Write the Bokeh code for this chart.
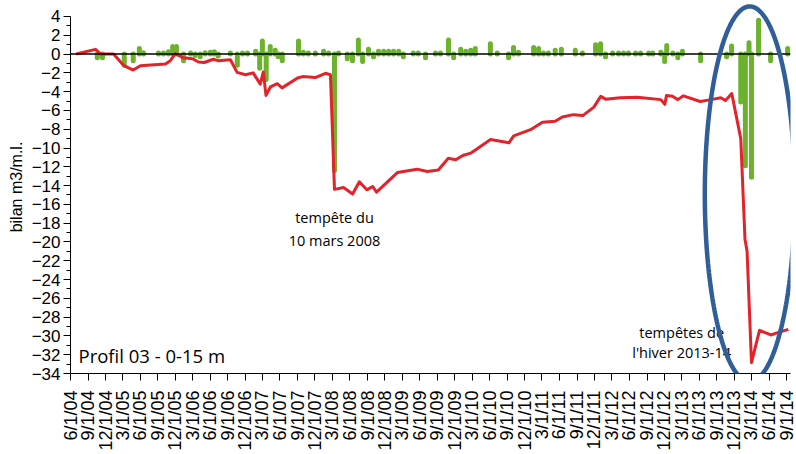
import numpy as np
import pandas as pd
from bokeh.plotting import figure
from bokeh.models import (Range1d, FixedTicker, CustomJSTickFormatter, Span, Label,
                          PolyAnnotation, ColumnDataSource)
from bokeh.embed import file_html
from bokeh.resources import INLINE

# ---------------- data ----------------
cumul_dates = [
    "2004-07-01", "2004-10-10", "2004-11-05", "2005-01-12", "2005-03-05", "2005-04-25",
    "2005-06-01", "2005-10-10", "2005-11-05", "2005-12-01", "2006-01-12", "2006-03-01",
    "2006-04-01", "2006-05-01", "2006-06-18", "2006-07-12", "2006-09-15", "2006-10-20",
    "2006-12-03", "2007-01-12", "2007-02-18", "2007-03-06", "2007-03-20", "2007-04-12",
    "2007-05-18", "2007-06-12", "2007-09-01", "2007-09-28", "2007-12-03", "2008-01-25",
    "2008-02-20", "2008-03-12", "2008-04-28", "2008-06-15", "2008-07-20", "2008-08-28",
    "2008-09-28", "2008-10-18", "2009-02-05", "2009-05-18", "2009-07-10", "2009-09-06",
    "2009-10-28", "2009-12-06", "2010-01-12", "2010-02-22", "2010-06-06", "2010-09-10",
    "2010-10-05", "2011-01-01", "2011-03-04", "2011-05-10", "2011-06-16", "2011-08-13",
    "2011-10-01", "2011-11-28", "2012-01-03", "2012-01-28", "2012-04-15", "2012-07-12",
    "2012-11-12", "2012-12-03", "2012-12-12", "2013-01-12", "2013-02-09", "2013-03-10",
    "2013-06-06", "2013-08-01", "2013-09-22", "2013-10-16", "2013-11-18", "2014-01-04",
    "2014-01-26", "2014-02-06", "2014-03-01", "2014-04-12", "2014-06-10", "2014-07-16",
    "2014-09-10",
]
cumul_values = [
    0.0, 0.5, 0.0, 0.0, -1.2, -1.7,
    -1.25, -1.05, -0.7, 0.05, -0.4, -0.5,
    -0.85, -0.9, -0.55, -0.7, -0.6, -1.95,
    -2.2, -2.0, -3.2, -1.9, -4.4, -3.5,
    -3.15, -3.6, -2.55, -2.4, -2.5, -2.05,
    -2.2, -14.4, -14.2, -14.9, -13.6, -14.45,
    -14.1, -14.7, -12.6, -12.25, -12.5, -12.35,
    -11.1, -11.25, -10.8, -10.55, -9.1, -9.45,
    -8.7, -8.05, -7.25, -7.15, -6.7, -6.45,
    -6.55, -5.65, -4.5, -4.8, -4.65, -4.6,
    -4.85, -5.35, -4.4, -4.5, -4.85, -4.45,
    -5.05, -4.85, -4.65, -4.95, -4.2, -9.0,
    -19.7, -21.0, -32.85, -29.4, -29.9, -29.65,
    -29.3,
]

change_dates = [
    "2004-10-19", "2004-11-15", "2005-03-09", "2005-04-25", "2005-05-27", "2005-06-17",
    "2005-09-04", "2005-09-30", "2005-10-26", "2005-11-17", "2005-12-07", "2006-01-13",
    "2006-02-19", "2006-03-15", "2006-04-10", "2006-05-06", "2006-06-02", "2006-06-23",
    "2006-07-13", "2006-09-15", "2006-10-21", "2006-11-17", "2006-12-13", "2007-01-25",
    "2007-02-15", "2007-03-01", "2007-03-21", "2007-04-11", "2007-05-07", "2007-05-23",
    "2007-06-13", "2007-09-06", "2007-10-01", "2007-10-27", "2007-12-03", "2008-01-15",
    "2008-02-10", "2008-03-12", "2008-04-02", "2008-05-18", "2008-06-14", "2008-07-15",
    "2008-08-06", "2008-09-06", "2008-10-02", "2008-10-28", "2008-11-24", "2008-12-20",
    "2009-01-15", "2009-02-11", "2009-03-07", "2009-04-28", "2009-05-24", "2009-07-01",
    "2009-08-22", "2009-09-17", "2009-10-29", "2009-11-25", "2010-01-01", "2010-01-27",
    "2010-02-22", "2010-03-18", "2010-06-05", "2010-07-11", "2010-09-08", "2010-10-04",
    "2010-10-30", "2011-01-17", "2011-02-12", "2011-03-09", "2011-04-04", "2011-05-10",
    "2011-06-11", "2011-08-23", "2011-09-29", "2011-12-07", "2012-01-02", "2012-01-28",
    "2012-03-05", "2012-04-05", "2012-05-01", "2012-05-27", "2012-07-03", "2012-07-29",
    "2012-09-10", "2012-10-01", "2012-11-12", "2012-12-02", "2012-12-13", "2013-01-14",
    "2013-02-09", "2013-03-05", "2013-06-08", "2013-10-22", "2013-11-17", "2014-01-04",
    "2014-01-28", "2014-02-16", "2014-03-01", "2014-04-07", "2014-06-09", "2014-09-06",
]
change_values = [
    -0.4, -0.4, -1.2, -0.7, 0.6, 0.15,
    0.1, 0.1, 0.25, 0.8, 0.8, -0.7,
    0.1, -0.15, -0.3, 0.15, 0.2, 0.25,
    -0.2, 0.1, -1.2, 0.1, 0.1, 0.3,
    -1.5, 1.4, -2.7, 0.8, 0.4, -0.3,
    -0.7, 1.4, 0.2, 0.1, 0.1, 0.3,
    0.1, -12.4, 0.1, -0.5, -0.7, 1.5,
    -0.8, 0.5, -0.3, 0.3, 0.3, 0.3,
    0.3, 0.3, -0.3, 0.1, 0.1, -0.4,
    0.1, 0.1, 1.5, -0.4, 0.5, 0.3,
    0.4, 0.6, 1.1, 0.1, -0.4, 0.7,
    0.2, 0.7, 0.6, 0.1, 0.1, 0.4,
    0.5, 0.4, 0.1, 1.0, 1.1, -0.3,
    0.1, 0.1, 0.1, 0.1, 0.1, 0.1,
    0.1, 0.1, 0.2, -0.8, 0.9, 0.1,
    -0.4, 0.3, -0.7, -0.3, 0.85, -5.1,
    -11.9, 1.2, -13.1, 3.6, -0.7, 0.6,
]

tick_labels = [
    "6/1/04", "9/1/04", "12/1/04",
    "3/1/05", "6/1/05", "9/1/05", "12/1/05",
    "3/1/06", "6/1/06", "9/1/06", "12/1/06",
    "3/1/07", "6/1/07", "9/1/07", "12/1/07",
    "3/1/08", "6/1/08", "9/1/08", "12/1/08",
    "3/1/09", "6/1/09", "9/1/09", "12/1/09",
    "3/1/10", "6/1/10", "9/1/10", "12/1/10",
    "3/1/11", "6/1/11", "9/1/11", "12/1/11",
    "3/1/12", "6/1/12", "9/1/12", "12/1/12",
    "3/1/13", "6/1/13", "9/1/13", "12/1/13",
    "3/1/14", "6/1/14", "9/1/14",
]
y_ticks = list(range(-34, 5, 2))
y_minor_ticks = list(range(-33, 4, 2))

title_text = "Profil 03 - 0-15 m"
y_label_text = "bilan m3/m.l."
storm1_lines = ["tempête du", "10 mars 2008"]
storm2_lines = ["tempêtes de", "l'hiver 2013-14"]


def to_ms(values):
    idx = pd.to_datetime(values)
    return (idx.values.astype("datetime64[ms]").astype("int64")).astype(float)


# ---------------- figure ----------------
x_start = to_ms(["2004-06-01"])[0]
x_end = to_ms(["2014-09-21"])[0]
tick_ms = list(to_ms(pd.to_datetime(tick_labels, format="%m/%d/%y")))

RED = "#e3222a"
GREEN = "#6cb22c"
BLUE = "#2f5e98"
TICK_FONT = "Liberation Sans"
ANN_FONT = "Open Sans"

# frame reaches the canvas top (so the highlight ellipse is not cut); the axis stops at 4
p = figure(width=796, height=454, x_axis_type="datetime", output_backend="svg",
           toolbar_location=None, x_range=Range1d(x_start, x_end), y_range=Range1d(-34, 5.70),
           min_border_left=70, min_border_right=6, min_border_top=0, min_border_bottom=81)
p.outline_line_color = None
p.xgrid.visible = False
p.ygrid.visible = False
p.background_fill_color = "white"
p.border_fill_color = "white"

changes = ColumnDataSource(dict(date=pd.to_datetime(change_dates), value=change_values))
p.segment(x0="date", y0=0, x1="date", y1="value", source=changes,
          line_color=GREEN, line_width=5, line_cap="round")

p.add_layout(Span(location=0, dimension="width", line_color="black", line_width=1.5))

cumul = ColumnDataSource(dict(date=pd.to_datetime(cumul_dates), value=cumul_values))
p.line(x="date", y="value", source=cumul, line_color=RED, line_width=3, line_join="round")

# axes
yax = p.yaxis[0]
yax.bounds = (-34, 4)
yax.ticker = FixedTicker(ticks=y_ticks, minor_ticks=y_minor_ticks)
yax.major_tick_out = 7
yax.major_tick_in = 0
yax.minor_tick_out = 4
yax.minor_tick_in = 0
yax.major_label_standoff = 3
yax.major_label_text_font = TICK_FONT
yax.major_label_text_font_size = "17px"
yax.major_label_text_color = "black"
yax.axis_line_color = "black"
yax.major_tick_line_color = "black"
yax.minor_tick_line_color = "black"
yax.axis_label = y_label_text
yax.axis_label_text_font = TICK_FONT
yax.axis_label_text_font_size = "16px"
yax.axis_label_text_font_style = "normal"
yax.axis_label_text_color = "black"
yax.axis_label_standoff = 4

xax = p.xaxis[0]
xax.ticker = FixedTicker(ticks=tick_ms, minor_ticks=[])
xax.formatter = CustomJSTickFormatter(args=dict(vals=tick_ms, labels=tick_labels), code="""
    const i = vals.findIndex((v) => Math.abs(v - tick) < 43200000);
    return i >= 0 ? labels[i] : "";
""")
xax.major_label_orientation = np.pi / 2
xax.major_tick_out = 7
xax.major_tick_in = 0
xax.major_label_standoff = 10
xax.major_label_text_font = TICK_FONT
xax.major_label_text_font_size = "18px"
xax.major_label_text_color = "black"
xax.axis_line_color = "black"
xax.major_tick_line_color = "black"

# profile title
p.add_layout(Label(x=x_start, y=-32.1, x_offset=8, text=title_text, text_align="left",
                   text_baseline="middle", text_font=ANN_FONT, text_font_size="18.5px",
                   text_color="black"))

# storm annotations
s1x = to_ms(["2008-03-12"])[0]
for t, yv in zip(storm1_lines, [-17.4, -19.8]):
    p.add_layout(Label(x=s1x, y=yv, text=t, text_align="center", text_baseline="middle",
                       text_font=ANN_FONT, text_font_size="14.5px", text_color="black"))
s2x = to_ms(["2013-03-01"])[0]
for t, yv in zip(storm2_lines, [-29.6, -31.8]):
    p.add_layout(Label(x=s2x, y=yv, text=t, text_align="center", text_baseline="middle",
                       text_font=ANN_FONT, text_font_size="14.5px", text_color="black"))

# highlight ellipse around the 2013-14 winter storms
cx = to_ms(["2014-02-20"])[0]
a_ms = 235 * 86400000.0
cy, b = -14.89, 19.96
t = np.linspace(0, 2 * np.pi, 240)
p.add_layout(PolyAnnotation(xs=list(cx + a_ms * np.cos(t)), ys=list(cy + b * np.sin(t)),
                            fill_color=None, fill_alpha=0, line_color=BLUE, line_alpha=1.0,
                            line_width=4.5))

open("out.html", "w").write(file_html(p, INLINE))
